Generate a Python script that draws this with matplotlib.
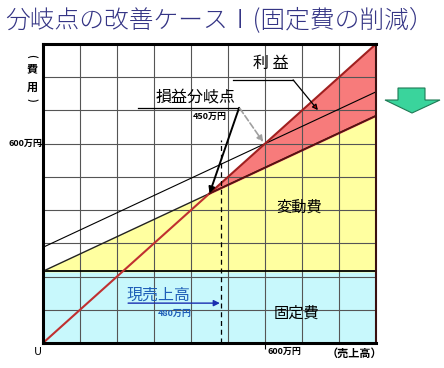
import matplotlib
matplotlib.use("Agg")
import matplotlib.pyplot as plt
from matplotlib.patches import Polygon
import numpy as np

plt.rcParams['font.family'] = ['Noto Sans CJK JP', 'DejaVu Sans']

# data (万円)
sales_range = [0, 900]
fixed_cost_new = 216
fixed_cost_old = 288
var_rate = 0.52
bep_new = 450
bep_old = 600
current_sales = 480

x = np.array(sales_range, dtype=float)
total_new = fixed_cost_new + var_rate * x
total_old = fixed_cost_old + var_rate * x

fig = plt.figure(figsize=(4.44, 3.68), dpi=100)
ax = fig.add_axes([43 / 444, 1 - 343 / 368, 333 / 444, 299 / 368])
ax.set_xlim(0, 900)
ax.set_ylim(0, 900)

# areas
ax.fill_between(x, 0, fixed_cost_new, color='#c8f8fc', zorder=1)
ax.fill_between(x, fixed_cost_new, total_new, color='#ffffa0', zorder=1)
xp = np.array([bep_new, 900])
ax.fill_between(xp, fixed_cost_new + var_rate * xp, xp, color='#f77b7b', zorder=1)

# grid
for g in range(100, 900, 100):
    ax.axvline(g, color='#555555', lw=0.8, zorder=2)
    ax.axhline(g, color='#555555', lw=0.8, zorder=2)

# lines
ax.plot(x, [fixed_cost_new] * 2, color='black', lw=1.3, zorder=3)
ax.plot(x, total_new, color='#222222', lw=1.0, zorder=3)
ax.plot(x, total_old, color='black', lw=0.8, zorder=3)
ax.plot([0, bep_new], [0, bep_new], color='#c03030', lw=1.5, zorder=3)
ax.plot([bep_new, 900], [bep_new, 900], color='#a02020', lw=1.5, zorder=3)
ax.plot([bep_new, 900], [bep_new, fixed_cost_new + var_rate * 900], color='#5a1010', lw=1.3, zorder=3)
ax.plot([current_sales, current_sales], [0, 612], color='black', lw=0.9, ls=(0, (4, 3)), zorder=3)

for side in ['left', 'bottom', 'top']:
    ax.spines[side].set_linewidth(2.2)
ax.spines['right'].set_linewidth(1.5)
ax.spines['right'].set_color('#3a1010')
for s in ax.spines.values():
    s.set_zorder(5)

ax.set_xticks([600])
ax.set_yticks([600])
ax.set_xticklabels([''])
ax.set_yticklabels([''])
ax.tick_params(length=4, width=0.8)

# axis texts
ax.text(-3, 600, '600万円', ha='right', va='center', fontsize=6.5, fontweight='bold')
ax.text(608, -12, '600万円', ha='left', va='top', fontsize=6.5, fontweight='bold')
ax.text(-14, -12, 'U', ha='center', va='top', fontsize=8)
ax.text(841, -12, '（売上高）', ha='center', va='top', fontsize=8, fontweight='bold')
fig.text(32 / 444, 1 - 56 / 368, '(', ha='center', va='center', fontsize=7,
         fontweight='bold', rotation=-90)
fig.text(32 / 444, 1 - 69 / 368, '費', ha='center', va='center', fontsize=8, fontweight='bold')
fig.text(32 / 444, 1 - 87 / 368, '用', ha='center', va='center', fontsize=8, fontweight='bold')
fig.text(32 / 444, 1 - 100 / 368, ')', ha='center', va='center', fontsize=7,
         fontweight='bold', rotation=-90)

# region labels
ax.text(692, 410, '変動費', ha='center', va='center', fontsize=11)
ax.text(686, 90, '固定費', ha='center', va='center', fontsize=11)

# break-even annotation
ax.text(411, 741, '損益分岐点', ha='center', va='center', fontsize=11.5)
ax.plot([257, 530], [708, 708], color='black', lw=0.9, zorder=4)
ax.text(497, 681, '450万円', ha='right', va='center', fontsize=6.5, fontweight='bold')
ax.annotate('', xy=(bep_new, bep_new), xytext=(530, 708),
            arrowprops=dict(arrowstyle='-|>', color='black', lw=1.4, mutation_scale=9,
                            shrinkA=0, shrinkB=0), zorder=4)
ax.annotate('', xy=(bep_old - 5, bep_old + 5), xytext=(532, 706),
            arrowprops=dict(arrowstyle='-|>', color='#a0a0a0', lw=1.2, ls='--', mutation_scale=9,
                            shrinkA=0, shrinkB=0), zorder=4)

# profit annotation
ax.text(616, 840, '利 益', ha='center', va='center', fontsize=11.5)
ax.plot([514, 676], [792, 792], color='black', lw=0.9, zorder=4)
ax.annotate('', xy=(743, 701), xytext=(676, 792),
            arrowprops=dict(arrowstyle='-|>', color='black', lw=0.9, mutation_scale=8,
                            shrinkA=0, shrinkB=0, fc='#cc0000'), zorder=4)

# current sales
ax.text(311, 145, '現売上高', ha='center', va='center', fontsize=11.5, color='#1f5fb8')
ax.annotate('', xy=(current_sales - 2, 120), xytext=(230, 120),
            arrowprops=dict(arrowstyle='-|>', color='#1a2fb0', lw=1.0, mutation_scale=9,
                            shrinkA=0, shrinkB=0), zorder=4)
ax.text(357, 90, '480万円', ha='center', va='center', fontsize=6.5, color='#1f5fb8', fontweight='bold')

# title
fig.text(5 / 444, 1 - 21 / 368, '分岐点の改善ケースⅠ(固定費の削減）', ha='left', va='center',
         fontsize=17.8, color='#353585', fontweight='light')

# green arrow
pts = [(398, 88), (425, 88), (425, 100), (440, 100), (412, 113), (385, 100), (398, 100)]
arrow = Polygon([(px / 444, 1 - py / 368) for px, py in pts], closed=True,
                transform=fig.transFigure, facecolor='#3ad49c', edgecolor='#1f7a55', lw=0.8)
fig.patches.append(arrow)

fig.savefig('out.png', dpi=100)
